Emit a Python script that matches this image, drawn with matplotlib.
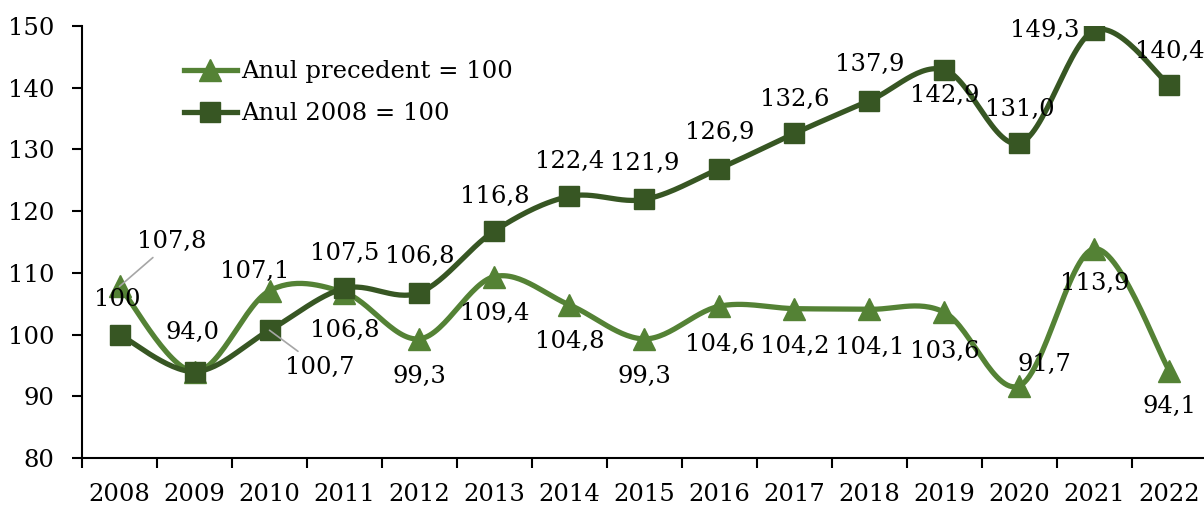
import numpy as np
import matplotlib
matplotlib.use("Agg")
import matplotlib.pyplot as plt
from matplotlib.lines import Line2D

years = ["2008", "2009", "2010", "2011", "2012", "2013", "2014", "2015",
         "2016", "2017", "2018", "2019", "2020", "2021", "2022"]
prev_year = [107.8, 94.0, 107.1, 106.8, 99.3, 109.4, 104.8, 99.3,
             104.6, 104.2, 104.1, 103.6, 91.7, 113.9, 94.1]
base_2008 = [100, 94.0, 100.7, 107.5, 106.8, 116.8, 122.4, 121.9,
             126.9, 132.6, 137.9, 142.9, 131.0, 149.3, 140.4]
prev_labels = ["107,8", "94,0", "107,1", "106,8", "99,3", "109,4", "104,8", "99,3",
               "104,6", "104,2", "104,1", "103,6", "91,7", "113,9", "94,1"]
base_labels = ["100", None, "100,7", "107,5", "106,8", "116,8", "122,4", "121,9",
               "126,9", "132,6", "137,9", "142,9", "131,0", "149,3", "140,4"]
series_names = ["Anul precedent = 100", "Anul 2008 = 100"]

# label offsets in pixels (dx, dy), y up
prev_off = [(52, 45), (-2, 39), (-15, 19), (0, -38), (0, -38), (0, -37), (0, -37), (0, -38),
            (0, -38), (0, -38), (0, -38), (0, -39), (25, 21), (0, -35), (0, -35)]
base_off = [(-2, 35), None, (50, -37), (0, 35), (0, 36), (0, 34), (0, 35), (0, 36),
            (0, 36), (0, 34), (0, 36), (0, -26), (0, 34), (-50, 0), (0, 34)]
prev_leader = [True] + [False] * 14
base_leader = [False, False, True] + [False] * 12

LIGHT = "#548235"
DARK = "#375623"
FONT = "DejaVu Serif"
FS = 17.5

plt.rcParams["font.family"] = FONT

W, H = 1204, 507
fig = plt.figure(figsize=(W / 100, H / 100), dpi=100)
left_px, right_px, bottom_px, top_px = 82, 1204, 458, 26
ax = fig.add_axes([left_px / W, (H - bottom_px) / H,
                   (right_px - left_px) / W, (bottom_px - top_px) / H])

n = len(years)
x = np.arange(n)


def smooth(xs, ys, steps=30):
    xs = np.asarray(xs, float)
    ys = np.asarray(ys, float)
    px, py = [], []
    m = len(xs)
    for i in range(m - 1):
        p0 = (xs[max(i - 1, 0)], ys[max(i - 1, 0)])
        p1 = (xs[i], ys[i])
        p2 = (xs[i + 1], ys[i + 1])
        p3 = (xs[min(i + 2, m - 1)], ys[min(i + 2, m - 1)])
        c1 = (p1[0] + (p2[0] - p0[0]) / 6, p1[1] + (p2[1] - p0[1]) / 6)
        c2 = (p2[0] - (p3[0] - p1[0]) / 6, p2[1] - (p3[1] - p1[1]) / 6)
        t = np.linspace(0, 1, steps, endpoint=(i == m - 2))
        bx = (1 - t) ** 3 * p1[0] + 3 * (1 - t) ** 2 * t * c1[0] + 3 * (1 - t) * t ** 2 * c2[0] + t ** 3 * p2[0]
        by = (1 - t) ** 3 * p1[1] + 3 * (1 - t) ** 2 * t * c1[1] + 3 * (1 - t) * t ** 2 * c2[1] + t ** 3 * p2[1]
        px.extend(bx)
        py.extend(by)
    return np.array(px), np.array(py)


LW = 3.8
for vals, col, mk, ms in [(prev_year, LIGHT, "^", 16), (base_2008, DARK, "s", 14)]:
    sx, sy = smooth(x, vals)
    ax.plot(sx, sy, color=col, lw=LW, solid_capstyle="round", zorder=3)
    ax.plot(x, vals, linestyle="none", marker=mk, markersize=ms, color=col, zorder=4)

for vals, labs, offs, leads in [(prev_year, prev_labels, prev_off, prev_leader),
                                (base_2008, base_labels, base_off, base_leader)]:
    for i in range(n):
        if labs[i] is None:
            continue
        kw = {}
        if leads[i]:
            kw["arrowprops"] = dict(arrowstyle="-", color="#A6A6A6", lw=1.2,
                                    shrinkA=2, shrinkB=0)
        ax.annotate(labs[i], (x[i], vals[i]), xytext=offs[i], textcoords="offset pixels",
                    ha="center", va="center", fontsize=FS, color="black", zorder=5, **kw)

ax.set_ylim(80, 150)
ax.set_xlim(-0.5, -0.5 + (right_px - left_px) / 75.0)
ax.set_yticks(np.arange(80, 151, 10))
ax.set_xticks(x)
ax.set_xticklabels(years)
ax.set_xticks(np.arange(-0.5, n - 0.5, 1), minor=True)
ax.tick_params(axis="x", which="major", length=0, pad=18, labelsize=FS)
ax.tick_params(axis="x", which="minor", length=7, width=1.5, direction="out")
ax.tick_params(axis="y", length=7, width=1.5, pad=13, labelsize=FS)
for s in ["top", "right"]:
    ax.spines[s].set_visible(False)
for s in ["left", "bottom"]:
    ax.spines[s].set_linewidth(1.5)
    ax.spines[s].set_color("black")

handles = [Line2D([], [], color=LIGHT, lw=LW, marker="^", markersize=16),
           Line2D([], [], color=DARK, lw=LW, marker="s", markersize=14)]
ax.legend(handles, series_names, loc="upper left", bbox_to_anchor=(0.082, 0.943),
          frameon=False, fontsize=FS, handlelength=2.2, handletextpad=0.15,
          labelspacing=0.78, borderaxespad=0)

fig.savefig("out.png", dpi=100)
